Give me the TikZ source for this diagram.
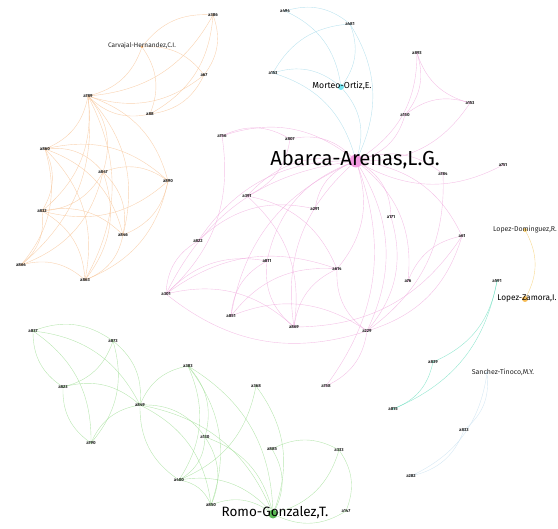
\documentclass[tikz,border=0pt]{standalone}
\usepackage{fontspec}
\setmainfont{Fira Sans}
\usetikzlibrary{backgrounds}
\definecolor{orE}{RGB}{247,196,150}
\definecolor{piE}{RGB}{240,172,222}
\definecolor{grE}{RGB}{160,222,150}
\definecolor{blE}{RGB}{165,218,234}
\definecolor{teE}{RGB}{110,222,192}
\definecolor{saE}{RGB}{200,224,240}
\definecolor{yeE}{RGB}{245,205,110}
\definecolor{txt}{RGB}{35,35,35}
\tikzset{
  dot/.style={circle,inner sep=0pt,minimum size=2pt,fill=#1},
  lab/.style={text=txt,font=\fontsize{4.4}{5}\selectfont\bfseries,inner sep=0pt},
  mid/.style={text=txt,font=\fontsize{7}{8}\selectfont,inner sep=0pt},
  big/.style={text=black,font=\fontsize{13.5}{15}\selectfont,inner sep=0pt},
  huge/.style={text=black,font=\fontsize{20.3}{22}\selectfont,inner sep=0pt},
  e/.style={line width=0.4pt,bend left=28,draw opacity=0.75},
}
\newcommand{\au}[5]{\node[dot=#1,minimum size=#2] (#3) at (#4) {}; \node[lab] at (#4) {#5};}
\begin{document}
\begin{tikzpicture}[x=1pt,y=-1pt]
\useasboundingbox (0,0) rectangle (558,529);

% ---------- orange group ----------
\node[dot=orE!80!orange,minimum size=3pt] (carv) at (142,47) {};
\node[mid,font=\fontsize{6.5}{7}\selectfont] at (142,46) {Carvajal-Hernandez,C.I.};
\au{orE}{2pt}{o386}{213,15}{a386}
\au{orE}{2pt}{o67}{204,75}{a67}
\au{orE}{2pt}{o88}{150,114}{a88}
\au{orE}{2pt}{o789}{88,96}{a789}
\au{orE}{2pt}{o860}{45,149}{a860}
\au{orE}{2pt}{o847}{103,172}{a847}
\au{orE}{2pt}{o890}{168,181}{a890}
\au{orE}{2pt}{o832}{42,211}{a832}
\au{orE}{2pt}{o846}{123,235}{a846}
\au{orE}{2pt}{o864}{21,265}{a864}
\au{orE}{2pt}{o863}{85,280}{a863}

% ---------- blue group ----------
\node[dot=blE!70!cyan,minimum size=6pt] (mort) at (341,87) {};
\node[big,font=\fontsize{8.7}{10}\selectfont] at (342,86) {Morteo-Ortiz,E.};
\au{blE}{2pt}{b494}{285,11}{a494}
\au{blE}{2pt}{b481}{350,24}{a481}
\au{blE}{2pt}{b153}{273,73}{a153}

% ---------- pink group ----------
\node[dot=piE!90!magenta,minimum size=13pt] (abar) at (356,161) {};
\node[huge] at (355,160) {Abarca-Arenas,L.G.};
\au{piE}{2pt}{p893}{417,53}{a893}
\au{piE}{2pt}{p153}{470,103}{a153}
\au{piE}{2pt}{p150}{405,115}{a150}
\au{piE}{2pt}{p751}{503,165}{a751}
\au{piE}{2pt}{p784}{443,174}{a784}
\au{piE}{2pt}{p756}{222,136}{a756}
\au{piE}{2pt}{p807}{290,139}{a807}
\au{piE}{2pt}{p391}{247,196}{a391}
\au{piE}{2pt}{p291}{315,209}{a291}
\au{piE}{2pt}{p171}{391,217}{a171}
\au{piE}{2pt}{p822}{198,241}{a822}
\au{piE}{2pt}{p811}{267,261}{a811}
\au{piE}{2pt}{p614}{337,269}{a614}
\au{piE}{2pt}{p61}{462,236}{a61}
\au{piE}{2pt}{p76}{408,281}{a76}
\au{piE}{2pt}{p301}{166,294}{a301}
\au{piE}{2pt}{p851}{231,316}{a851}
\au{piE}{2pt}{p869}{294,327}{a869}
\au{piE}{2pt}{p229}{367,331}{a229}
\au{piE}{2pt}{p758}{326,386}{a758}

% ---------- green group ----------
\node[dot=grE!70!green!80!black,minimum size=9pt] (romo) at (273,514) {};
\node[big] at (275,513) {Romo-Gonzalez,T.};
\au{grE}{2pt}{g837}{33,331}{a837}
\au{grE}{2pt}{g873}{113,341}{a873}
\au{grE}{2pt}{g823}{63,387}{a823}
\au{grE}{2pt}{g790}{91,443}{a790}
\au{grE}{2pt}{g849}{140,405}{a849}
\au{grE}{2pt}{g383}{188,366}{a383}
\au{grE}{2pt}{g368}{256,386}{a368}
\au{grE}{2pt}{g130}{205,437}{a130}
\au{grE}{2pt}{g885}{272,449}{a885}
\au{grE}{2pt}{g333}{339,450}{a333}
\au{grE}{2pt}{g400}{179,480}{a400}
\au{grE}{2pt}{g850}{211,505}{a850}
\au{grE}{2pt}{g147}{346,511}{a147}

% ---------- teal group ----------
\au{teE}{2pt}{t591}{497,281}{a591}
\au{teE}{2pt}{t839}{433,362}{a839}
\au{teE}{2pt}{t815}{393,409}{a815}

% ---------- Sanchez-Tinoco group ----------
\node[dot=saE,minimum size=3pt] (sanc) at (487,373) {};
\node[mid] at (503,372) {Sanchez-Tinoco,M.Y.};
\au{saE}{2pt}{s833}{464,430}{a833}
\au{saE}{2pt}{s282}{411,476}{a282}

% ---------- Lopez pair ----------
\node[dot=yeE,minimum size=4pt] (lodo) at (525,230) {};
\node[mid] at (525,230) {Lopez-Dominguez,R.};
\node[dot=yeE!80!orange,minimum size=6pt] (loza) at (525,299) {};
\node[big,font=\fontsize{8.3}{9}\selectfont] at (527,299) {Lopez-Zamora,I.};

\begin{pgfonlayer}{background}
% orange edges
\foreach \a/\b in {carv/o386,carv/o67,carv/o88,carv/o789,o386/o67,o386/o88,o386/o789,o67/o88,o67/o789,o88/o789,
  o789/o860,o789/o847,o789/o890,o789/o832,o789/o846,o789/o864,o789/o863,
  o860/o847,o860/o890,o860/o832,o860/o846,o860/o864,o860/o863,
  o847/o890,o847/o832,o847/o846,o847/o864,o847/o863,
  o890/o832,o890/o863,o832/o846,o832/o864,o832/o863,o864/o863,o846/o863,o890/o846}
  \draw[e,orE] (\a) to (\b);
% blue edges
\foreach \a/\b in {b494/mort,b481/mort,b153/mort,b494/b481,b153/b481,b153/abar,b481/abar,mort/abar}
  \draw[e,blE] (\a) to (\b);
% pink edges
\foreach \a/\b in {p893/p150,p153/p893,p150/p153,p893/abar,p153/abar,p150/abar,p751/abar,abar/p784,
  p756/abar,p807/abar,p391/abar,p291/abar,abar/p171,p822/abar,p811/abar,abar/p614,abar/p61,abar/p76,
  p301/abar,p851/abar,p869/abar,abar/p229,abar/p758,
  p301/p822,p301/p811,p301/p614,p229/p301,p301/p869,p756/p301,p851/p614,p851/p811,p869/p811,
  p869/p614,p229/p614,p61/p229,p171/p229,p229/p758,p76/p61,p391/p614,p756/p807,p822/p291,
  p784/p229,p851/p229,p391/p869,p807/p391,p61/p869}
  \draw[e,piE] (\a) to (\b);
% green edges
\foreach \a/\b in {g837/g873,g823/g837,g837/g790,g837/g849,g873/g823,g873/g790,g873/g849,g823/g849,
  g790/g823,g790/g849,g849/g383,g849/g130,g400/g849,g849/g850,g849/romo,g383/g130,g383/g400,
  g383/g850,g383/romo,g368/g400,g368/romo,g130/g400,g130/romo,g130/g850,g885/g333,g885/romo,
  g333/romo,g333/g147,g400/g850,g400/romo,g850/romo,g147/romo}
  \draw[e,grE] (\a) to (\b);
% teal edges
\foreach \a/\b in {t591/t839,t591/t815,t839/t815}
  \draw[e,teE] (\a) to (\b);
% Sanchez-Tinoco edges
\foreach \a/\b in {sanc/s833,sanc/s282,s833/s282}
  \draw[e,saE] (\a) to (\b);
\draw[e,yeE] (lodo) to (loza);
\end{pgfonlayer}
\end{tikzpicture}
\end{document}
